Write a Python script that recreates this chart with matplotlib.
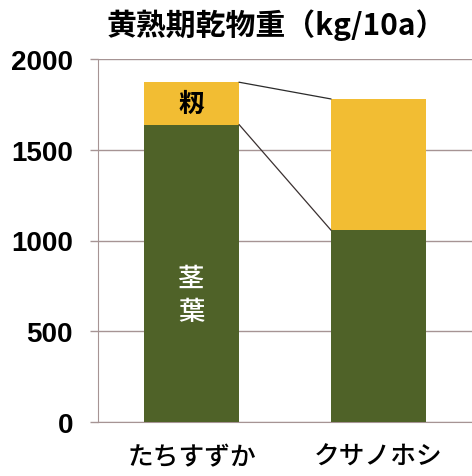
import numpy as np
import matplotlib.pyplot as plt

# 黄熟期の乾物重 (kg/10a)
varieties = ['たちすずか', 'クサノホシ']
stem_leaf = [1638, 1058]   # 茎葉
panicle = [234, 722]       # 籾

green = '#4f6228'
yellow = '#f2bd33'
grid_col = '#a69494'

plt.rcParams['font.family'] = ['Noto Sans CJK JP', 'DejaVu Sans']

fig = plt.figure(figsize=(4.72, 4.77), dpi=100)
ax = fig.add_axes([98 / 472, 54 / 477, 374 / 472, 363 / 477])

x = np.arange(len(varieties))
w = 0.51
ax.bar(x, stem_leaf, width=w, color=green, zorder=3)
totals = np.array(stem_leaf) + np.array(panicle)
ax.bar(x, panicle, width=w, bottom=stem_leaf, color=yellow, zorder=3)

# series lines between the two bars
ax.plot([x[0] + w / 2, x[1] - w / 2], [totals[0], totals[1]], color='#2b2b2b', lw=0.9, zorder=4)
ax.plot([x[0] + w / 2, x[1] - w / 2], [stem_leaf[0], stem_leaf[1]], color='#3a3030', lw=0.9, zorder=4)

ax.set_xlim(-0.5, 1.5)
ax.set_ylim(0, 2000)
ax.set_yticks([0, 500, 1000, 1500, 2000])
ax.yaxis.grid(True, color=grid_col, lw=1.0, zorder=0)
ax.set_axisbelow(True)

for s in ['top', 'right']:
    ax.spines[s].set_visible(False)
ax.spines['left'].set_color(grid_col)
ax.spines['bottom'].set_color(grid_col)

ax.tick_params(axis='y', length=6, width=1, color=grid_col, pad=12)
ax.tick_params(axis='x', length=0, pad=15)
for lab in ax.get_yticklabels():
    lab.set_fontfamily('Liberation Sans')
    lab.set_fontweight('bold')
    lab.set_fontsize(20)
ax.set_xticks(x)
ax.set_xticklabels(varieties, fontsize=18.5, fontweight='medium')

# segment labels
ax.text(x[0], stem_leaf[0] + panicle[0] / 2, '籾', ha='center', va='center',
        fontsize=18.5, fontweight='bold', color='black', zorder=5)
ax.text(x[0], 700, '茎\n葉', ha='center', va='center', fontsize=19,
        fontweight='medium', color='white', linespacing=1.25, zorder=5)

fig.text(276 / 472, 1 - 25 / 477, '黄熟期乾物重（kg/10a）', ha='center', va='center',
         fontsize=21.5, fontweight='bold')

fig.savefig('out.png', dpi=100, facecolor='white')
